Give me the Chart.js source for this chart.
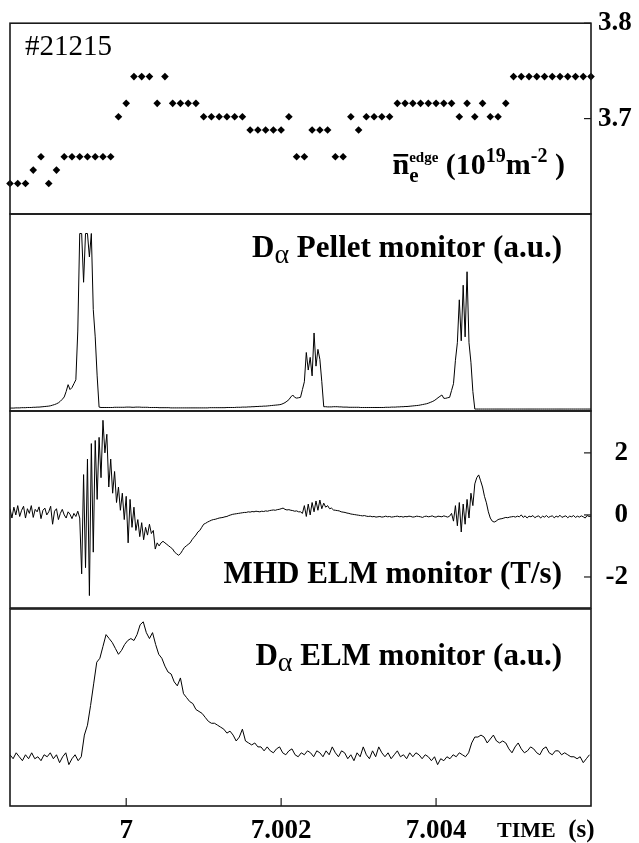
<!DOCTYPE html>
<html>
<head>
<meta charset="utf-8">
<script src="https://cdn.jsdelivr.net/npm/chart.js@4.4.0/dist/chart.umd.min.js"></script>
<style>
  html, body { margin: 0; padding: 0; background: #fff; }
  #wrap { position: relative; width: 639px; height: 843px; }
  #wrap canvas { position: absolute; left: 0; top: 0; }
</style>
</head>
<body>
<div id="wrap">
  <canvas id="p1" width="639" height="843"></canvas>
  <canvas id="p2" width="639" height="843"></canvas>
  <canvas id="p3" width="639" height="843"></canvas>
  <canvas id="p4" width="639" height="843"></canvas>
</div>
<script>
const T_START = 6.9985;
const T_END = 7.006;
const timeTicks = [7, 7.002, 7.004];

// edge line density, one sample every 0.1 ms
const densityStep = 0.0001;
const densityTicks = [3.7, 3.8];
const densityValues = [
  3.632, 3.632, 3.632, 3.646, 3.660, 3.632, 3.646, 3.660, 3.660, 3.660,
  3.660, 3.660, 3.660, 3.660, 3.702, 3.716, 3.744, 3.744, 3.744, 3.716,
  3.744, 3.716, 3.716, 3.716, 3.716, 3.702, 3.702, 3.702, 3.702, 3.702,
  3.702, 3.688, 3.688, 3.688, 3.688, 3.688, 3.702, 3.660, 3.660, 3.688,
  3.688, 3.688, 3.660, 3.660, 3.702, 3.688, 3.702, 3.702, 3.702, 3.702,
  3.716, 3.716, 3.716, 3.716, 3.716, 3.716, 3.716, 3.716, 3.702, 3.716,
  3.702, 3.716, 3.702, 3.702, 3.716, 3.744, 3.744, 3.744, 3.744, 3.744,
  3.744, 3.744, 3.744, 3.744, 3.744, 3.744
];

// D-alpha pellet monitor, every 0.025 ms
const pelletStep = 0.000025;
const pelletValues = [
  0.05, 0.05, 0.05, 0.06, 0.06, 0.06, 0.07, 0.07, 0.07, 0.08,
  0.08, 0.08, 0.09, 0.09, 0.1, 0.1, 0.11, 0.12, 0.13, 0.14,
  0.15, 0.17, 0.2, 0.23, 0.27, 0.32, 0.4, 0.5, 0.62, 0.9,
  1.25, 1.0, 1.1, 1.3, 1.5, 4.0, 9.0, 9.0, 6.5, 9.0,
  9.0, 7.8, 9.0, 5.1, 3.7, 1.7, 0.1, 0.08, 0.08, 0.08,
  0.08, 0.08, 0.08, 0.08, 0.09, 0.09, 0.09, 0.09, 0.09, 0.09,
  0.1, 0.1, 0.1, 0.09, 0.09, 0.1, 0.1, 0.1, 0.09, 0.09,
  0.09, 0.09, 0.08, 0.08, 0.08, 0.08, 0.08, 0.07, 0.07, 0.07,
  0.07, 0.07, 0.07, 0.06, 0.06, 0.06, 0.06, 0.06, 0.06, 0.06,
  0.06, 0.06, 0.06, 0.06, 0.06, 0.06, 0.06, 0.06, 0.06, 0.06,
  0.06, 0.06, 0.06, 0.07, 0.07, 0.07, 0.07, 0.07, 0.07, 0.07,
  0.07, 0.07, 0.08, 0.08, 0.08, 0.08, 0.08, 0.09, 0.09, 0.09,
  0.1, 0.1, 0.1, 0.11, 0.11, 0.12, 0.12, 0.13, 0.13, 0.14,
  0.14, 0.15, 0.15, 0.16, 0.17, 0.18, 0.19, 0.2, 0.21, 0.22,
  0.24, 0.28, 0.33, 0.4, 0.48, 0.62, 0.72, 0.6, 0.56, 0.58,
  0.6, 1.0, 1.4, 2.9, 2.0, 2.65, 1.7, 3.9, 2.2, 3.06,
  2.55, 1.4, 0.12, 0.12, 0.11, 0.11, 0.11, 0.12, 0.12, 0.12,
  0.11, 0.11, 0.1, 0.1, 0.1, 0.09, 0.09, 0.09, 0.09, 0.09,
  0.09, 0.08, 0.08, 0.08, 0.08, 0.08, 0.08, 0.08, 0.08, 0.08,
  0.08, 0.08, 0.08, 0.08, 0.09, 0.09, 0.09, 0.1, 0.1, 0.1,
  0.11, 0.11, 0.12, 0.12, 0.13, 0.13, 0.14, 0.15, 0.16, 0.17,
  0.18, 0.19, 0.21, 0.23, 0.25, 0.27, 0.3, 0.34, 0.38, 0.43,
  0.5, 0.58, 0.65, 0.72, 0.55, 0.55, 0.58, 0.6, 0.95, 1.3,
  2.5, 3.4, 5.6, 3.5, 6.35, 3.7, 7.04, 3.4, 2.4, 0.9,
  0, 0, 0, 0, 0, 0, 0, 0, 0, 0,
  0, 0, 0, 0, 0, 0, 0, 0, 0, 0,
  0, 0, 0, 0, 0, 0, 0, 0, 0, 0,
  0, 0, 0, 0, 0, 0, 0, 0, 0, 0,
  0, 0, 0, 0, 0, 0, 0, 0, 0, 0,
  0, 0, 0, 0, 0, 0, 0, 0, 0, 0,
  0
];

// MHD ELM monitor (T/s), every 0.025 ms
const mhdStep = 0.000025;
const mhdTicks = [-2, 0, 2];
const mhdValues = [
  0.2, -0.1, 0.25, 0.0, 0.3, -0.05, 0.15, 0.28, -0.1, 0.2,
  0.05, 0.3, -0.08, 0.18, 0.1, 0.26, -0.12, 0.15, 0.22, 0.0,
  0.1, 0.28, -0.3, 0.12, 0.2, -0.15, 0.05, 0.18, 0.0, -0.1,
  0.1, 0.02, -0.12, 0.05, -0.05, 0.12, -0.1, -1.9, 1.3, -1.7,
  1.8, -2.6, 2.3, -1.2, 2.4, 0.5, 2.5, 1.2, 3.05, 2.0,
  2.6, 0.9, 1.8, 0.7, 1.4, 0.4, 0.9, 0.15, 0.7, -0.15,
  0.6, -0.9, 0.5, -0.4, 0.25, -0.5, -0.15, -0.7, -0.25, -0.8,
  -0.4, -0.65, -0.3, -0.6, -0.5, -1.1, -0.9, -1.0, -0.9, -0.85,
  -0.9, -0.95, -1.0, -1.05, -1.1, -1.2, -1.25, -1.3, -1.25, -1.15,
  -1.05, -1.0, -0.95, -0.9, -0.8, -0.72, -0.65, -0.55, -0.5, -0.4,
  -0.3, -0.27, -0.23, -0.2, -0.17, -0.15, -0.14, -0.12, -0.1, -0.09,
  -0.08, -0.06, -0.05, -0.02, 0.0, 0.02, 0.03, 0.04, 0.05, 0.06,
  0.07, 0.08, 0.08, 0.1, 0.09, 0.11, 0.1, 0.12, 0.11, 0.1,
  0.12, 0.11, 0.13, 0.12, 0.14, 0.15, 0.16, 0.15, 0.17, 0.18,
  0.2, 0.22, 0.18, 0.16, 0.17, 0.15, 0.14, 0.12, 0.13, 0.1,
  0.1, 0.05, 0.3, -0.05, 0.35, 0.0, 0.4, 0.1, 0.45, 0.15,
  0.48, 0.2, 0.38, 0.25, 0.3, 0.2, 0.22, 0.16, 0.15, 0.14,
  0.13, 0.1, 0.09, 0.08, 0.06, 0.05, 0.03, 0.02, 0.01, 0.0,
  -0.01, -0.02, -0.03, -0.02, -0.04, -0.05, -0.04, -0.06, -0.05, -0.07,
  -0.06, -0.05, -0.07, -0.06, -0.04, -0.06, -0.05, -0.07, -0.06, -0.05,
  -0.04, -0.06, -0.05, -0.07, -0.05, -0.06, -0.04, -0.05, -0.07, -0.06,
  -0.04, -0.05, -0.06, -0.08, -0.05, -0.04, -0.06, -0.05, -0.03, -0.06,
  -0.07, -0.04, -0.05, -0.06, -0.03, -0.05, -0.07, -0.04, 0.05, -0.2,
  0.3, -0.35, 0.4, -0.55, 0.35, -0.3, 0.5, -0.1, 0.7, 0.3,
  1.0, 1.2, 1.29, 1.1, 0.9, 0.6, 0.39, 0.1, -0.1, -0.2,
  -0.23, -0.2, -0.15, -0.13, -0.12, -0.1, -0.08, -0.09, -0.07, -0.06,
  -0.05, -0.07, -0.04, -0.06, 0.0, -0.08, -0.03, -0.1, -0.04, -0.06,
  -0.02, -0.09, -0.05, -0.03, -0.1, -0.04, -0.07, -0.02, -0.08, -0.05,
  -0.03, -0.09, -0.04, -0.07, -0.01, -0.08, -0.05, -0.03, -0.09, -0.04,
  -0.06, -0.02, -0.08, -0.04, -0.07, -0.03, -0.06, -0.1, -0.02, -0.05,
  -0.04
];

// D-alpha ELM monitor, every 0.04 ms
const elmStep = 0.00004;
const elmValues = [
  26, 24, 27, 25, 23, 26, 24, 27, 24, 25,
  23, 26, 25, 27, 24, 26, 22, 25, 27, 21,
  24, 26, 23, 25, 36, 41, 51, 62, 73, 75,
  81, 87, 85, 83, 80, 77, 79, 82, 84, 85,
  84, 87, 92, 93.5, 88, 85, 88, 82, 77, 75,
  71, 68, 67, 63, 61, 65, 57, 55, 53, 52,
  49, 48, 47, 45, 43, 42, 42, 41, 40, 39,
  37, 38, 36, 33, 35, 39, 33, 32, 31, 32,
  30, 30, 28, 30, 28, 27, 29, 30, 27, 26,
  28, 29, 26, 25, 27, 26, 28, 27, 25, 28,
  27, 25, 28, 26, 30, 27, 25, 28, 27, 24,
  26, 23, 27, 25, 30, 26, 24, 28, 25, 30,
  27, 25, 27, 24, 26, 28, 25, 26, 24, 27,
  25, 27, 26, 24, 26, 25, 23, 25, 21, 24,
  23, 25, 24, 26, 25, 27, 26, 25, 27, 32,
  35, 35, 36, 35, 32, 34, 36, 33, 32, 33,
  32, 29, 27, 30, 32, 29, 27, 28, 30, 29,
  27, 26, 29, 30, 27, 26, 28, 28, 26, 27,
  26, 25, 25, 24, 25, 22, 24, 26
];

Chart.defaults.font.family = '"Liberation Serif", "Times New Roman", serif';
Chart.defaults.color = '#000';
Chart.defaults.animation = false;

const SERIF = '"Liberation Serif", "Times New Roman", serif';

const toPoints = (vals, step) => vals.map((v, i) => ({ x: T_START + i * step, y: v }));

// text made of pieces (subscripts, superscripts)
function drawRich(ctx, parts, x, y, align) {
  const fontOf = p => `${p.bold === false ? 'normal' : 'bold'} ${p.size}px ${SERIF}`;
  let total = 0;
  parts.forEach(p => {
    ctx.font = fontOf(p);
    p.w = ctx.measureText(p.t).width;
    if (!p.keep) total += p.w;
  });
  let cx = align === 'right' ? x - total : x;
  ctx.textAlign = 'left';
  ctx.textBaseline = 'alphabetic';
  parts.forEach(p => {
    ctx.font = fontOf(p);
    ctx.fillText(p.t, cx, y + (p.dy || 0));
    if (p.over) ctx.fillRect(cx + 1, y - p.over, p.w - 2, 2.5);
    if (!p.keep) cx += p.w;
  });
}

// frame, inward ticks and the labels inside each panel
function makeDecor(cfg) {
  return {
    id: 'decor',
    afterDraw(chart) {
      const { ctx, chartArea: a } = chart;
      ctx.save();
      ctx.strokeStyle = '#1a1a1a';
      ctx.fillStyle = '#000';
      ctx.lineWidth = 1.6;
      ctx.strokeRect(a.left, a.top, a.width, a.height);
      ctx.lineWidth = 1.2;
      if (cfg.yTicks) {
        const ys = chart.scales.y;
        ys.ticks.forEach(t => {
          const py = ys.getPixelForValue(t.value);
          ctx.beginPath();
          ctx.moveTo(a.right - 7, py);
          ctx.lineTo(a.right, py);
          ctx.stroke();
        });
      }
      if (cfg.xTicks) {
        const xs = chart.scales.x;
        xs.ticks.forEach(t => {
          const px = xs.getPixelForValue(t.value);
          ctx.beginPath();
          ctx.moveTo(px, a.bottom - 8);
          ctx.lineTo(px, a.bottom);
          ctx.stroke();
        });
      }
      (cfg.texts || []).forEach(tx => drawRich(ctx, tx.parts, tx.x, tx.y, tx.align));
      ctx.restore();
    }
  };
}

const hiddenX = { type: 'linear', min: T_START, max: T_END, display: false };

function lineSet(vals, step) {
  return {
    data: toPoints(vals, step),
    borderColor: '#000',
    borderWidth: 1,
    pointRadius: 0,
    tension: 0,
    fill: false
  };
}

function rightAxis(min, max, ticks, fmt, align, pad, width) {
  return {
    position: 'right',
    min, max,
    afterBuildTicks: s => { s.ticks = ticks.map(v => ({ value: v })); },
    afterFit: s => { s.width = width; },
    grid: { display: false, drawTicks: false },
    border: { display: false },
    ticks: {
      padding: pad,
      crossAlign: align,
      font: { size: 27, weight: 'bold' },
      callback: fmt
    }
  };
}

const baseOpts = (padding, scales) => ({
  responsive: false,
  animation: false,
  layout: { padding },
  plugins: { legend: { display: false }, tooltip: { enabled: false } },
  scales
});

// panel 1: edge density diamonds
new Chart(document.getElementById('p1'), {
  type: 'line',
  data: {
    datasets: [{
      data: toPoints(densityValues, densityStep),
      showLine: false,
      pointStyle: 'rectRot',
      pointRadius: 3.8,
      pointBackgroundColor: '#000',
      pointBorderWidth: 0,
      clip: false
    }]
  },
  options: baseOpts({ top: 18, bottom: 629, left: 10, right: 0 }, {
    x: hiddenX,
    y: rightAxis(3.6, 3.8, densityTicks, v => v.toFixed(1), 'near', 7, 48)
  }),
  plugins: [makeDecor({
    yTicks: true,
    texts: [
      { x: 25, y: 55, align: 'left', parts: [{ t: '#21215', size: 29, bold: false }] },
      { x: 565, y: 174, align: 'right', parts: [
        { t: 'n', size: 30, over: 20 },
        { t: 'e', size: 21, dy: 8, keep: true },
        { t: 'edge', size: 15, dy: -12 },
        { t: ' (10', size: 30 },
        { t: '19', size: 20, dy: -12 },
        { t: 'm', size: 30 },
        { t: '-2', size: 20, dy: -12 },
        { t: ' )', size: 30 }
      ] }
    ]
  })]
});

// panel 2: D-alpha pellet monitor
new Chart(document.getElementById('p2'), {
  type: 'line',
  data: { datasets: [lineSet(pelletValues, pelletStep)] },
  options: baseOpts({ top: 214, bottom: 432, left: 10, right: 48 }, {
    x: hiddenX,
    y: { min: -0.1, max: 10, display: false }
  }),
  plugins: [makeDecor({
    texts: [
      { x: 562, y: 257, align: 'right', parts: [
        { t: 'D', size: 31 },
        { t: 'α', size: 28, dy: 6, bold: false },
        { t: ' Pellet monitor (a.u.)', size: 31 }
      ] }
    ]
  })]
});

// panel 3: MHD ELM monitor (labels right-aligned at the axis' right edge)
new Chart(document.getElementById('p3'), {
  type: 'line',
  data: { datasets: [lineSet(mhdValues, mhdStep)] },
  options: baseOpts({ top: 411, bottom: 235, left: 10, right: 11 }, {
    x: hiddenX,
    y: rightAxis(-3.0, 3.35, mhdTicks, v => String(v), 'far', 5, 37)
  }),
  plugins: [makeDecor({
    yTicks: true,
    texts: [
      { x: 562, y: 583, align: 'right', parts: [{ t: 'MHD ELM monitor (T/s)', size: 31 }] }
    ]
  })]
});

// panel 4: D-alpha ELM monitor with the time axis
new Chart(document.getElementById('p4'), {
  type: 'line',
  data: { datasets: [lineSet(elmValues, elmStep)] },
  options: baseOpts({ top: 609, bottom: 0, left: 10, right: 48 }, {
    x: {
      type: 'linear',
      position: 'bottom',
      min: T_START,
      max: T_END,
      afterBuildTicks: s => { s.ticks = timeTicks.map(v => ({ value: v })); },
      afterFit: s => { s.height = 37; },
      grid: { display: false, drawTicks: false },
      border: { display: false },
      ticks: {
        padding: 9,
        maxRotation: 0,
        autoSkip: false,
        font: { size: 27, weight: 'bold' },
        callback: v => (v === 7 ? '7' : v.toFixed(3))
      }
    },
    y: { min: 0, max: 100, display: false }
  }),
  plugins: [makeDecor({
    xTicks: true,
    texts: [
      { x: 562, y: 665, align: 'right', parts: [
        { t: 'D', size: 31 },
        { t: 'α', size: 28, dy: 6, bold: false },
        { t: ' ELM monitor (a.u.)', size: 31 }
      ] },
      { x: 497, y: 837, align: 'left', parts: [
        { t: 'TIME', size: 22 },
        { t: '  (s)', size: 25 }
      ] }
    ]
  })]
});
</script>
</body>
</html>
